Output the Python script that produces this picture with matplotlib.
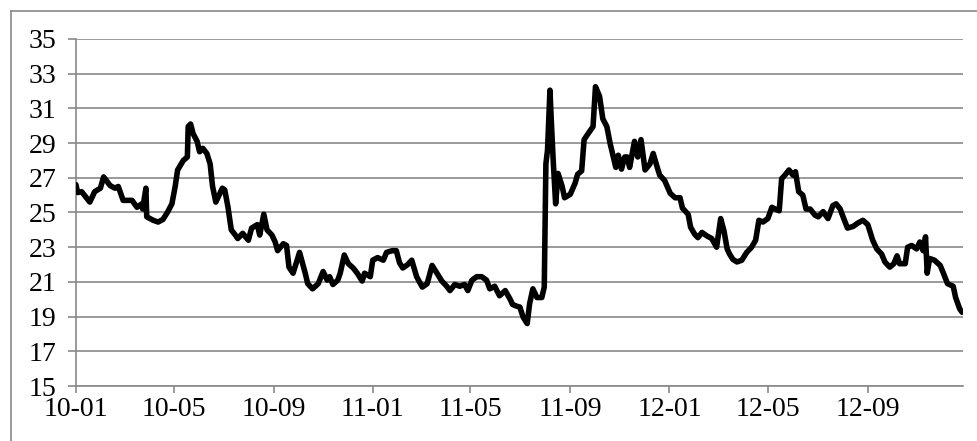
import matplotlib
matplotlib.use("Agg")
import matplotlib.pyplot as plt
import pandas as pd
from matplotlib.lines import Line2D

day_offsets = [
    0, 2, 7, 12, 17, 23, 30, 34, 42, 48,
    52, 58, 63, 69, 75, 81, 82, 86, 87, 95,
    101, 107, 113, 118, 122, 125, 132, 137, 138, 141,
    144, 149, 152, 156, 161, 165, 168, 172, 180, 183,
    187, 191, 196, 199, 205, 212, 216, 223, 226, 231,
    235, 241, 245, 248, 255, 259, 262, 267, 275, 282,
    285, 291, 298, 304, 309, 312, 316, 322, 325, 330,
    335, 341, 346, 352, 355, 362, 365, 371, 378, 382,
    389, 394, 398, 402, 408, 413, 419, 426, 432, 438,
    444, 450, 456, 460, 466, 472, 478, 482, 487, 493,
    499, 505, 509, 515, 521, 528, 534, 537, 542, 546,
    550, 555, 558, 562, 567, 573, 576, 578, 580, 583,
    585, 587, 590, 593, 598, 601, 608, 614, 617, 622,
    625, 630, 636, 639, 644, 648, 653, 657, 660, 664,
    667, 671, 675, 678, 681, 687, 691, 695, 700, 706,
    710, 715, 718, 724, 731, 737, 743, 746, 753, 756,
    761, 765, 770, 776, 782, 788, 793, 797, 801, 804,
    808, 813, 819, 825, 831, 836, 840, 845, 851, 856,
    860, 865, 868, 872, 877, 882, 885, 889, 894, 898,
    903, 909, 913, 919, 925, 931, 935, 940, 944, 949,
    956, 962, 968, 974, 980, 985, 991, 995, 1001, 1006,
    1010, 1013, 1020, 1023, 1028, 1034, 1038, 1042, 1045, 1047,
    1050, 1056, 1063, 1067, 1072, 1079, 1082, 1087, 1090,
]

values = [
    26.6, 26.15, 26.2, 25.9, 25.6, 26.2, 26.4, 27.05, 26.55, 26.4,
    26.5, 25.7, 25.7, 25.7, 25.3, 25.5, 25.2, 26.4, 24.75, 24.55,
    24.45, 24.6, 25.05, 25.5, 26.5, 27.45, 28.0, 28.2, 29.95, 30.1,
    29.55, 29.1, 28.5, 28.7, 28.4, 27.8, 26.5, 25.6, 26.4, 26.3,
    25.3, 24.0, 23.7, 23.5, 23.8, 23.4, 24.1, 24.3, 23.7, 24.9,
    24.0, 23.7, 23.3, 22.8, 23.2, 23.1, 21.85, 21.5, 22.7, 21.5,
    20.9, 20.6, 20.9, 21.6, 21.1, 21.3, 20.85, 21.1, 21.5, 22.55,
    22.05, 21.8, 21.5, 21.05, 21.5, 21.3, 22.25, 22.4, 22.25, 22.7,
    22.8, 22.8, 22.1, 21.8, 22.0, 22.25, 21.3, 20.7, 20.9, 21.95,
    21.5, 21.05, 20.75, 20.5, 20.85, 20.75, 20.85, 20.5, 21.1, 21.3,
    21.3, 21.1, 20.6, 20.75, 20.2, 20.5, 20.0, 19.7, 19.6, 19.55,
    18.97, 18.6, 19.75, 20.6, 20.1, 20.1, 20.7, 27.8, 28.6, 32.05,
    29.95, 28.0, 25.5, 27.25, 26.5, 25.85, 26.05, 26.7, 27.2, 27.4,
    29.2, 29.55, 29.95, 32.25, 31.7, 30.4, 29.95, 28.98, 28.4, 27.6,
    28.3, 27.5, 28.2, 28.2, 27.6, 29.1, 28.2, 29.2, 27.45, 27.8,
    28.4, 27.6, 27.15, 26.85, 26.1, 25.85, 25.85, 25.25, 24.9, 24.15,
    23.75, 23.55, 23.85, 23.65, 23.5, 23.0, 24.65, 23.95, 22.9, 22.6,
    22.3, 22.15, 22.25, 22.7, 23.0, 23.4, 24.55, 24.45, 24.65, 25.3,
    25.2, 25.1, 26.95, 27.15, 27.45, 27.15, 27.35, 26.2, 26.0, 25.2,
    25.2, 24.85, 24.75, 25.05, 24.65, 25.4, 25.5, 25.2, 24.7, 24.1,
    24.2, 24.4, 24.55, 24.3, 23.4, 22.9, 22.6, 22.15, 21.85, 22.05,
    22.5, 22.05, 22.05, 23.0, 23.1, 22.9, 23.3, 22.8, 23.6, 21.5,
    22.35, 22.25, 21.95, 21.5, 20.9, 20.75, 20.1, 19.45, 19.25,
]

x_tick_dates = ["2010-01-01", "2010-05-01", "2010-09-01", "2011-01-01",
                "2011-05-01", "2011-09-01", "2012-01-01", "2012-05-01",
                "2012-09-01"]
x_tick_labels = ["10-01", "10-05", "10-09", "11-01", "11-05", "11-09",
                 "12-01", "12-05", "12-09"]
y_ticks = [15, 17, 19, 21, 23, 25, 27, 29, 31, 33, 35]

start = pd.Timestamp("2010-01-01")
dates = start + pd.to_timedelta(day_offsets, unit="D")

plt.rcParams["font.family"] = ["Liberation Serif", "DejaVu Serif"]

grid_c = "#898989"
fig = plt.figure(figsize=(9.78, 4.41), dpi=100)
ax = fig.add_axes([0.0777, 0.1247, 0.9069, 0.7869])

ax.plot(dates, values, color="black", linewidth=4.0, solid_joinstyle="round",
        solid_capstyle="round", zorder=3)

ax.set_ylim(15, 35)
ax.set_yticks(y_ticks)
ax.set_yticklabels([str(v) for v in y_ticks], fontsize=20)
ax.set_xlim(start, start + pd.Timedelta(days=1091))
ax.set_xticks(pd.to_datetime(x_tick_dates))
ax.set_xticklabels(x_tick_labels, fontsize=20)

ax.yaxis.grid(True, color=grid_c, linewidth=1.2)
ax.xaxis.grid(False)
ax.set_axisbelow(True)
for s in ["top", "right"]:
    ax.spines[s].set_visible(False)
for s in ["left", "bottom"]:
    ax.spines[s].set_color(grid_c)
    ax.spines[s].set_linewidth(1.2)

ax.tick_params(axis="y", direction="out", length=6, width=1.2, color=grid_c,
               pad=8, labelcolor="black")
ax.tick_params(axis="x", direction="out", length=5, width=1.2, color=grid_c,
               pad=3, labelcolor="black")

# outer chart border (left and top edges visible)
fig.add_artist(Line2D([10.5 / 978, 10.5 / 978], [0, 1 - 10.5 / 441],
                      transform=fig.transFigure, color=grid_c, linewidth=1.2))
fig.add_artist(Line2D([10.5 / 978, 1], [1 - 10.5 / 441, 1 - 10.5 / 441],
                      transform=fig.transFigure, color=grid_c, linewidth=1.2))

fig.savefig("out.png", dpi=100)
